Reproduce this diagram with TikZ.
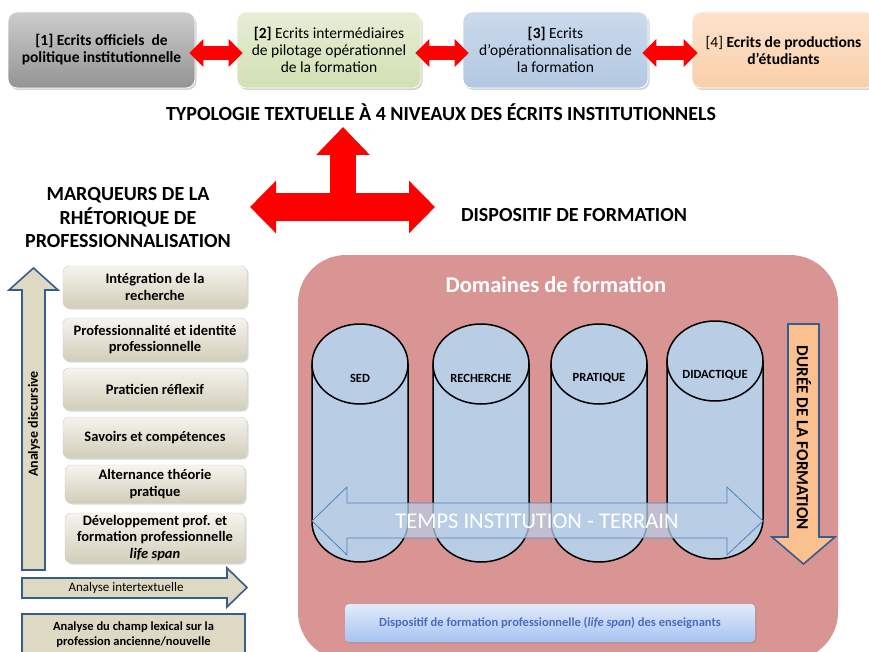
\documentclass[tikz,border=0pt]{standalone}
\usepackage{fontspec}
\setmainfont{Carlito}
\usetikzlibrary{arrows.meta,shadows}

\definecolor{tanfill}{HTML}{DDD9C3}
\definecolor{dkblue}{HTML}{385D8A}
\definecolor{panelred}{HTML}{D99594}
\definecolor{cylblue}{HTML}{B9CDE5}
\definecolor{orangefill}{HTML}{FAC090}
\definecolor{lifetext}{HTML}{4A6BBF}
\definecolor{arrowline}{HTML}{4F81BD}
\definecolor{greentop}{HTML}{E6EED6}
\definecolor{greenbot}{HTML}{D2E0B2}
\definecolor{bluetop}{HTML}{CBDAEC}
\definecolor{bluebot}{HTML}{B3C8E2}
\definecolor{peachtop}{HTML}{FDE3CC}
\definecolor{peachbot}{HTML}{F9CFAA}
\definecolor{lifetop}{HTML}{E2EBFB}
\definecolor{lifebot}{HTML}{A6C3F2}

\begin{document}
\begin{tikzpicture}[x=1pt, y=-1pt,
  ecrit/.style={rounded corners=9pt, draw=white, line width=0.8pt, align=center,
    minimum height=76pt, inner sep=2pt,
    drop shadow={opacity=0.35, shadow xshift=1.5pt, shadow yshift=-2pt},
    font=\fontsize{15.5}{17}\selectfont},
  redlink/.style={red, line width=14pt,
    {Triangle[width=27pt,length=14pt]}-{Triangle[width=27pt,length=14pt]},
    shorten <=-6pt, shorten >=-6pt},
  heading/.style={font=\fontsize{20}{23.5}\selectfont\bfseries, align=center},
  marker/.style={rounded corners=6pt, draw=black!20, top color=white!70!tanfill,
    bottom color=tanfill!95!black, minimum width=184pt, align=center, inner sep=1pt,
    drop shadow={opacity=0.3, shadow xshift=1.5pt, shadow yshift=-1.5pt},
    font=\fontsize{14.5}{16.5}\selectfont\bfseries},
  blockarrow/.style={fill=tanfill, draw=dkblue, line width=1.6pt},
  cyl/.style={fill=cylblue, draw=black, line width=1.5pt},
]
\useasboundingbox (0,0) rectangle (869,652);
\clip (0,0) rectangle (869,652);

% typologie des ecrits
\node[ecrit, top color=black!20, bottom color=black!42, minimum width=187pt] (ecrit1) at (101.5,50)
  {\textbf{[1] Ecrits officiels\ \ de}\\\textbf{politique institutionnelle}};
\node[ecrit, top color=greentop, bottom color=greenbot, minimum width=184pt] (ecrit2) at (329,50)
  {\textbf{[2]} Ecrits intermédiaires\\de pilotage opérationnel\\de la formation};
\node[ecrit, top color=bluetop, bottom color=bluebot, minimum width=185pt] (ecrit3) at (555.5,50)
  {\textbf{[3]} Ecrits\\d’opérationnalisation de\\la formation};
\node[ecrit, top color=peachtop, bottom color=peachbot, minimum width=183pt] (ecrit4) at (783.5,50)
  {[4] \textbf{Ecrits de productions}\\\textbf{d’étudiants}};

\draw[redlink] ([yshift=-3pt]ecrit1.east) -- ([yshift=-3pt]ecrit2.west);
\draw[redlink] ([yshift=-3pt]ecrit2.east) -- ([yshift=-3pt]ecrit3.west);
\draw[redlink] ([yshift=-3pt]ecrit3.east) -- ([yshift=-3pt]ecrit4.west);

\node[heading] (typo) at (441,112) {TYPOLOGIE TEXTUELLE À 4 NIVEAUX DES ÉCRITS INSTITUTIONNELS};

% fleche en T
\coordinate (tleft) at (250,207);
\coordinate (tright) at (435,207);
\coordinate (tmid) at (343,207);
\coordinate (ttop) at (343,127);
\draw[red, line width=28pt, {Triangle[width=51pt,length=26pt]}-{Triangle[width=51pt,length=26pt]}] (tleft) -- (tright);
\draw[red, line width=26pt, -{Triangle[width=52pt,length=28pt]}] (tmid) -- (ttop);

\node[heading] (marqueurs) at (128,218) {MARQUEURS DE LA\\RHÉTORIQUE DE\\PROFESSIONNALISATION};
\node[heading] (dispositif) at (574,215) {DISPOSITIF DE FORMATION};

% marqueurs
\draw[blockarrow] (22,570) -- (22,290) -- (9,290) -- (33.5,268) -- (58,290) -- (45,290) -- (45,570) -- cycle;
\node[rotate=90, font=\fontsize{14}{16}\selectfont\bfseries] (discursive) at (34,424) {Analyse discursive};

\node[marker, minimum height=42pt] (m1) at (155,287) {Intégration de la\\recherche};
\node[marker, minimum height=43pt] (m2) at (155,339.5) {Professionnalité et identité\\professionnelle};
\node[marker, minimum height=42pt] (m3) at (155,389) {Praticien réflexif};
\node[marker, minimum height=41pt] (m4) at (155,437.5) {Savoirs et compétences};
\node[marker, minimum height=38pt, minimum width=180pt] (m5) at (155,484) {Alternance théorie\\pratique};
\node[marker, minimum height=50pt, minimum width=180pt] (m6) at (155,538) {Développement prof. et\\formation professionnelle\\\textit{life span}};

\draw[blockarrow] (22,578) -- (227,578) -- (227,568) -- (247,587.5) -- (227,607) -- (227,598) -- (22,598) -- cycle;
\node[font=\fontsize{13}{15}\selectfont] (intertext) at (126,588) {Analyse intertextuelle};

\node[blockarrow, anchor=north, minimum width=223pt, inner ysep=8pt, align=center,
  font=\fontsize{12.5}{15}\selectfont\bfseries] (lexical) at (133.5,613)
  {Analyse du champ lexical sur la\\profession ancienne/nouvelle};

% dispositif de formation
\node[fill=panelred, rounded corners=48pt, minimum width=540pt, minimum height=405pt] (domaines) at (568,457.5) {};
\node[white, font=\fontsize{22.5}{26}\selectfont\bfseries] (domtitle) at (556,285) {Domaines de formation};

\foreach \cx/\cy/\lab/\nm in {360/364/SED/sed, 481/364/RECHERCHE/rech, 599/364/PRATIQUE/prat, 715/361/DIDACTIQUE/dida} {
  \filldraw[cyl] (\cx-48,\cy) -- (\cx-48,\cy+158) arc[start angle=180, end angle=360, x radius=48pt, y radius=40pt] -- (\cx+48,\cy) -- cycle;
  \filldraw[cyl] (\cx,\cy) ellipse [x radius=48pt, y radius=40pt];
  \node[font=\fontsize{12.5}{14}\selectfont\bfseries] (\nm) at (\cx,\cy+14) {\lab};
}

\draw[fill=cylblue, fill opacity=0.75, draw=arrowline, line width=0.8pt]
  (312,521) -- (347,487) -- (347,503) -- (727,503) -- (727,487) -- (763,521)
  -- (727,555) -- (727,538) -- (347,538) -- (347,555) -- cycle;
\node[white, font=\fontsize{22.5}{26}\selectfont] (temps) at (537,521) {TEMPS INSTITUTION - TERRAIN};

\draw[fill=orangefill, draw=dkblue, line width=1.6pt]
  (788,324) -- (819,324) -- (819,537) -- (835,537) -- (803.5,564) -- (772,537) -- (788,537) -- cycle;
\node[rotate=-90, font=\fontsize{17}{19}\selectfont\bfseries] (duree) at (804,438) {DURÉE DE LA FORMATION};

\node[rounded corners=4pt, top color=lifetop, bottom color=lifebot, minimum width=410pt,
  minimum height=38pt, drop shadow={opacity=0.3, shadow xshift=1.5pt, shadow yshift=-1.5pt},
  text=lifetext, font=\fontsize{12.5}{14}\selectfont\bfseries] (lifespan) at (550,623)
  {Dispositif de formation professionnelle (\textit{life span}) des enseignants};
\end{tikzpicture}
\end{document}
